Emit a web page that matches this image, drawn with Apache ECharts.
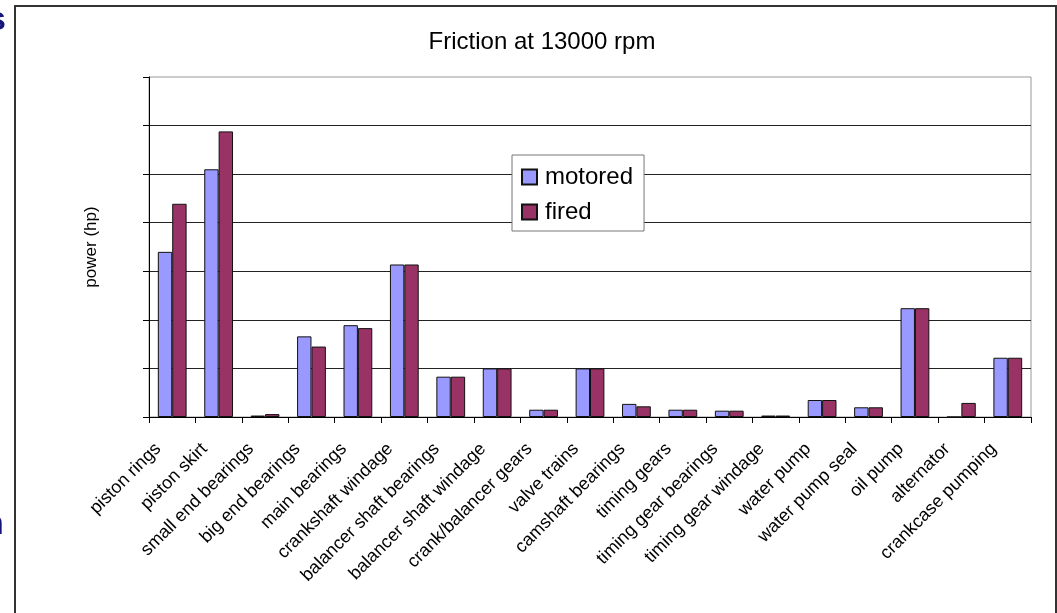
<!DOCTYPE html>
<html>
<head>
<meta charset="utf-8">
<script src="https://cdn.jsdelivr.net/npm/echarts@6/dist/echarts.min.js"></script>
<style>
  html, body { margin: 0; padding: 0; background: #fff; }
  #chart { width: 1057px; height: 613px; }
</style>
</head>
<body>
<div id="chart"></div>
<script>
// Friction losses by component at 13000 rpm (hp)
const categories = [
  'piston rings', 'piston skirt', 'small end bearings', 'big end bearings',
  'main bearings', 'crankshaft windage', 'balancer shaft bearings',
  'balancer shaft windage', 'crank/balancer gears', 'valve trains',
  'camshaft bearings', 'timing gears', 'timing gear bearings',
  'timing gear windage', 'water pump', 'water pump seal', 'oil pump',
  'alternator', 'crankcase pumping'
];
const motored = [3.40, 5.10, 0.03, 1.66, 1.89, 3.14, 0.83, 1.00, 0.15, 1.00,
                 0.27, 0.15, 0.13, 0.03, 0.35, 0.20, 2.24, 0.00, 1.22];
const fired   = [4.39, 5.88, 0.06, 1.45, 1.83, 3.14, 0.83, 1.00, 0.15, 1.00,
                 0.22, 0.15, 0.13, 0.03, 0.35, 0.20, 2.24, 0.29, 1.22];
const seriesNames = ['motored', 'fired'];
const titleText = 'Friction at 13000 rpm';
const yAxisTitle = 'power (hp)';

const FONT = '"Liberation Sans", Arial, sans-serif';

const chart = echarts.init(document.getElementById('chart'), null, { renderer: 'canvas' });
chart.setOption({
  animation: false,
  backgroundColor: '#ffffff',
  textStyle: { fontFamily: FONT, color: '#000' },
  title: {
    text: titleText,
    left: 537,
    top: 25,
    textAlign: 'center',
    textStyle: { fontFamily: FONT, fontSize: 24, fontWeight: 'normal', color: '#000' }
  },
  legend: {
    data: seriesNames,
    orient: 'vertical',
    left: 512,
    top: 155,
    padding: [10, 11, 7, 9],
    itemGap: 11,
    itemWidth: 15,
    itemHeight: 15,
    icon: 'rect',
    backgroundColor: '#fff',
    borderColor: '#777',
    borderWidth: 1,
    textStyle: { fontFamily: FONT, fontSize: 24, color: '#000', padding: [0, 0, 0, 3] }
  },
  graphic: [
    { type: 'rect', z: -1, silent: true,
      shape: { x: 15, y: 6, width: 1041, height: 640 },
      style: { fill: null, stroke: '#333', lineWidth: 2 } },
    { type: 'text', silent: true, x: -13, y: 4,
      style: { text: 's', font: 'bold 34px ' + FONT, fill: '#14147a' } },
    { type: 'text', silent: true, x: -17, y: 508,
      style: { text: 'n', font: 'bold 34px ' + FONT, fill: '#14147a' } }
  ],
  grid: {
    left: 149, right: 26, top: 77, bottom: 196,
    show: true, borderColor: '#999', borderWidth: 1, backgroundColor: 'transparent'
  },
  xAxis: {
    type: 'category',
    data: categories,
    axisLine: { lineStyle: { color: '#000', width: 1 } },
    axisTick: { show: true, length: 6, lineStyle: { color: '#000' } },
    axisLabel: {
      interval: 0, rotate: 45, fontSize: 18, color: '#000', fontFamily: FONT,
      margin: 15, padding: [0, 20, 0, 0]
    }
  },
  yAxis: {
    type: 'value',
    min: 0, max: 7, interval: 1,
    name: yAxisTitle,
    nameLocation: 'middle',
    nameRotate: 90,
    nameGap: 49,
    nameTextStyle: { fontFamily: FONT, fontSize: 17, color: '#000' },
    axisLine: { show: true, lineStyle: { color: '#000', width: 1 } },
    axisTick: { show: true, length: 6, lineStyle: { color: '#000' } },
    axisLabel: { show: false },
    splitLine: { show: true, showMaxLine: false, lineStyle: { color: '#222', width: 1 } }
  },
  series: [
    { name: seriesNames[0], type: 'bar', data: motored, barWidth: '31%', barGap: '0%',
      itemStyle: { color: '#9999ff', borderColor: '#111', borderWidth: 1 } },
    { name: seriesNames[1], type: 'bar', data: fired, barWidth: '31%', barGap: '0%',
      itemStyle: { color: '#993366', borderColor: '#111', borderWidth: 1 } }
  ]
});
</script>
</body>
</html>
